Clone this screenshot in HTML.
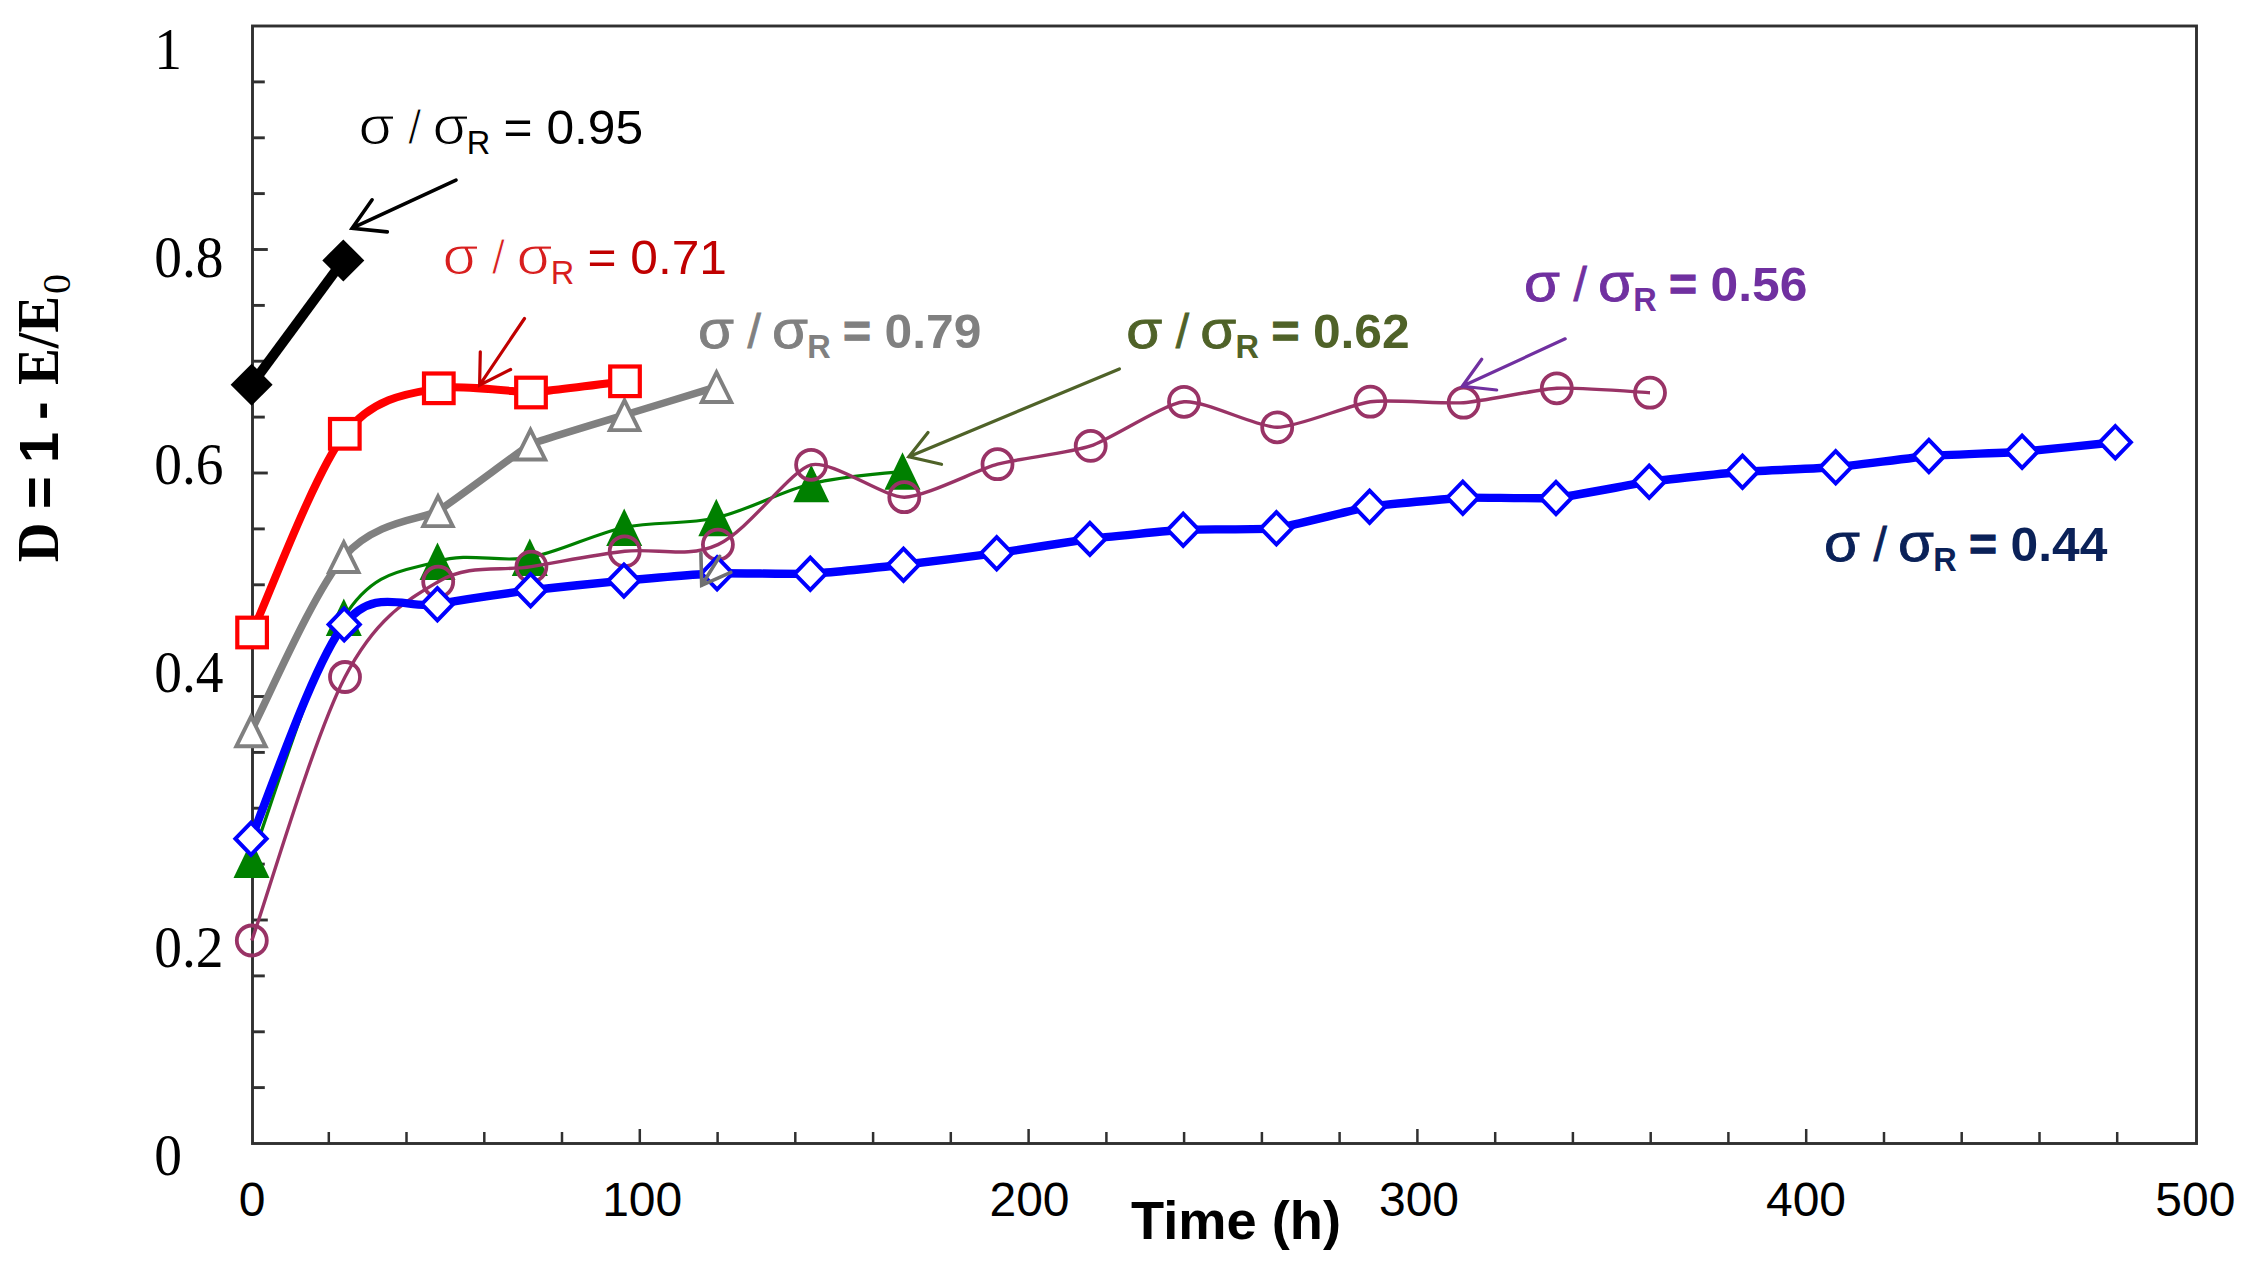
<!DOCTYPE html>
<html lang="en"><head><meta charset="utf-8"><title>D = 1 - E/E0 versus Time (h)</title>
<style>html,body{margin:0;padding:0;background:#fff;}svg{display:block;}.sans{font-family:"Liberation Sans",Arial,sans-serif;}.serif{font-family:"Liberation Serif","Times New Roman",serif;}</style></head><body>
<svg width="2244" height="1266" viewBox="0 0 2244 1266">
<rect x="0" y="0" width="2244" height="1266" fill="#ffffff"/>
<g stroke="#303030" stroke-width="2.9" fill="none" stroke-linecap="butt">
<rect x="252.5" y="26.0" width="1944.0" height="1117.5"/>
<line x1="252.5" y1="1087.6" x2="264.8" y2="1087.6"/>
<line x1="252.5" y1="1031.8" x2="264.8" y2="1031.8"/>
<line x1="252.5" y1="975.9" x2="264.8" y2="975.9"/>
<line x1="252.5" y1="920.0" x2="267.8" y2="920.0"/>
<line x1="252.5" y1="864.1" x2="264.8" y2="864.1"/>
<line x1="252.5" y1="808.2" x2="264.8" y2="808.2"/>
<line x1="252.5" y1="752.4" x2="264.8" y2="752.4"/>
<line x1="252.5" y1="696.5" x2="267.8" y2="696.5"/>
<line x1="252.5" y1="640.6" x2="264.8" y2="640.6"/>
<line x1="252.5" y1="584.8" x2="264.8" y2="584.8"/>
<line x1="252.5" y1="528.9" x2="264.8" y2="528.9"/>
<line x1="252.5" y1="473.0" x2="267.8" y2="473.0"/>
<line x1="252.5" y1="417.1" x2="264.8" y2="417.1"/>
<line x1="252.5" y1="361.2" x2="264.8" y2="361.2"/>
<line x1="252.5" y1="305.4" x2="264.8" y2="305.4"/>
<line x1="252.5" y1="249.5" x2="267.8" y2="249.5"/>
<line x1="252.5" y1="193.6" x2="264.8" y2="193.6"/>
<line x1="252.5" y1="137.8" x2="264.8" y2="137.8"/>
<line x1="252.5" y1="81.9" x2="264.8" y2="81.9"/>
<line x1="328.8" y1="1143.5" x2="328.8" y2="1132.0" stroke-width="2.5"/>
<line x1="406.5" y1="1143.5" x2="406.5" y2="1132.0" stroke-width="2.5"/>
<line x1="484.3" y1="1143.5" x2="484.3" y2="1132.0" stroke-width="2.5"/>
<line x1="562.0" y1="1143.5" x2="562.0" y2="1132.0" stroke-width="2.5"/>
<line x1="639.8" y1="1143.5" x2="639.8" y2="1129.0" stroke-width="2.5"/>
<line x1="717.6" y1="1143.5" x2="717.6" y2="1132.0" stroke-width="2.5"/>
<line x1="795.3" y1="1143.5" x2="795.3" y2="1132.0" stroke-width="2.5"/>
<line x1="873.1" y1="1143.5" x2="873.1" y2="1132.0" stroke-width="2.5"/>
<line x1="950.8" y1="1143.5" x2="950.8" y2="1132.0" stroke-width="2.5"/>
<line x1="1028.6" y1="1143.5" x2="1028.6" y2="1129.0" stroke-width="2.5"/>
<line x1="1106.4" y1="1143.5" x2="1106.4" y2="1132.0" stroke-width="2.5"/>
<line x1="1184.1" y1="1143.5" x2="1184.1" y2="1132.0" stroke-width="2.5"/>
<line x1="1261.9" y1="1143.5" x2="1261.9" y2="1132.0" stroke-width="2.5"/>
<line x1="1339.6" y1="1143.5" x2="1339.6" y2="1132.0" stroke-width="2.5"/>
<line x1="1417.4" y1="1143.5" x2="1417.4" y2="1129.0" stroke-width="2.5"/>
<line x1="1495.2" y1="1143.5" x2="1495.2" y2="1132.0" stroke-width="2.5"/>
<line x1="1572.9" y1="1143.5" x2="1572.9" y2="1132.0" stroke-width="2.5"/>
<line x1="1650.7" y1="1143.5" x2="1650.7" y2="1132.0" stroke-width="2.5"/>
<line x1="1728.4" y1="1143.5" x2="1728.4" y2="1132.0" stroke-width="2.5"/>
<line x1="1806.2" y1="1143.5" x2="1806.2" y2="1129.0" stroke-width="2.5"/>
<line x1="1884.0" y1="1143.5" x2="1884.0" y2="1132.0" stroke-width="2.5"/>
<line x1="1961.7" y1="1143.5" x2="1961.7" y2="1132.0" stroke-width="2.5"/>
<line x1="2039.5" y1="1143.5" x2="2039.5" y2="1132.0" stroke-width="2.5"/>
<line x1="2117.2" y1="1143.5" x2="2117.2" y2="1132.0" stroke-width="2.5"/>
</g>
<g class="serif" font-size="59" fill="#000">
<text transform="translate(154.2,69.4) scale(0.94,1)" x="0" y="0">1</text>
<text transform="translate(154.2,277.0) scale(0.94,1)" x="0" y="0">0.8</text>
<text transform="translate(154.2,483.6) scale(0.94,1)" x="0" y="0">0.6</text>
<text transform="translate(154.2,691.5) scale(0.94,1)" x="0" y="0">0.4</text>
<text transform="translate(154.2,966.5) scale(0.94,1)" x="0" y="0">0.2</text>
<text transform="translate(154.2,1175.0) scale(0.94,1)" x="0" y="0">0</text>
</g>
<g class="sans" font-size="48" fill="#000" text-anchor="middle">
<text x="252.2" y="1216">0</text>
<text x="642.2" y="1216">100</text>
<text x="1029.5" y="1216">200</text>
<text x="1419.0" y="1216">300</text>
<text x="1806.0" y="1216">400</text>
<text x="2195.3" y="1216">500</text>
</g>
<text class="sans" font-size="54.5" font-weight="bold" fill="#000" x="1131" y="1239.3" textLength="210" lengthAdjust="spacingAndGlyphs">Time (h)</text>
<g transform="translate(58,563) rotate(-90)" fill="#000" font-weight="bold">
<text class="serif" font-size="60" x="0.7" y="0" textLength="39.7" lengthAdjust="spacingAndGlyphs">D</text>
<text class="sans" font-size="56" x="54" y="0">=</text>
<text class="sans" font-size="56" x="100" y="0">1</text>
<text class="sans" font-size="56" x="143" y="0">-</text>
<text class="serif" font-size="60" x="178" y="0" textLength="89" lengthAdjust="spacingAndGlyphs">E/E</text>
<text class="serif" font-size="40" font-weight="normal" x="269" y="12">0</text>
</g>
<path d="M251.5 859.5 C266.9 819.2 312.8 667.2 343.8 617.5 C374.8 567.8 406.5 571.5 437.5 561.5 C468.5 551.5 498.7 563.2 529.8 557.5 C560.9 551.8 593.1 534.1 624.2 527.5 C655.3 520.9 685.1 525.1 716.3 517.8 C747.5 510.5 780.3 491.6 811.3 483.8 C842.3 476.1 887.3 473.4 902.5 471.3" fill="none" stroke="#008000" stroke-width="3.2" stroke-linejoin="round"/>
<polygon points="251.5,840.5 269.5,878.0 233.5,878.0" fill="#008000"/>
<polygon points="343.8,598.5 361.8,636.0 325.8,636.0" fill="#008000"/>
<polygon points="437.5,542.5 455.5,580.0 419.5,580.0" fill="#008000"/>
<polygon points="529.8,538.5 547.8,576.0 511.8,576.0" fill="#008000"/>
<polygon points="624.2,508.5 642.2,546.0 606.2,546.0" fill="#008000"/>
<polygon points="716.3,498.8 734.3,536.3 698.3,536.3" fill="#008000"/>
<polygon points="811.3,464.8 829.3,502.3 793.3,502.3" fill="#008000"/>
<polygon points="902.5,452.3 920.5,489.8 884.5,489.8" fill="#008000"/>
<path d="M251.6 384.7 L343.3 260.4" fill="none" stroke="#000" stroke-width="10"/>
<polygon points="251.6,363.7 272.6,384.7 251.6,405.7 230.6,384.7" fill="#000"/>
<polygon points="343.3,239.4 364.3,260.4 343.3,281.4 322.3,260.4" fill="#000"/>
<path d="M251.0 731.2 C266.5 702.2 312.6 593.6 343.8 556.9 C375.0 520.2 424.9 518.9 438.0 511.0 C451.1 503.1 524.9 447.3 530.5 444.4 C536.1 441.5 618.9 416.7 624.5 415.0 C630.1 413.3 713.7 387.7 716.5 386.9" fill="none" stroke="#808080" stroke-width="7.5" stroke-linejoin="round"/>
<polygon points="251.0,716.6 265.7,746.3 236.3,746.3" fill="#fff" stroke="#808080" stroke-width="3.9" stroke-linejoin="miter"/>
<polygon points="343.8,542.3 358.5,572.0 329.1,572.0" fill="#fff" stroke="#808080" stroke-width="3.9" stroke-linejoin="miter"/>
<polygon points="438.0,496.4 452.7,526.1 423.3,526.1" fill="#fff" stroke="#808080" stroke-width="3.9" stroke-linejoin="miter"/>
<polygon points="530.5,429.8 545.2,459.5 515.8,459.5" fill="#fff" stroke="#808080" stroke-width="3.9" stroke-linejoin="miter"/>
<polygon points="624.5,400.4 639.2,430.1 609.8,430.1" fill="#fff" stroke="#808080" stroke-width="3.9" stroke-linejoin="miter"/>
<polygon points="716.5,372.3 731.2,402.0 701.8,402.0" fill="#fff" stroke="#808080" stroke-width="3.9" stroke-linejoin="miter"/>
<path d="M252.1 632.5 C267.6 599.4 313.7 474.5 344.8 433.8 C375.9 393.1 420.2 392.4 438.8 388.3 C457.4 384.2 523.6 392.8 531.0 392.5 C538.4 392.2 621.2 381.7 625.0 381.3" fill="none" stroke="#ff0000" stroke-width="8" stroke-linejoin="round"/>
<rect x="237.3" y="617.7" width="29.6" height="29.6" fill="#fff" stroke="#ff0000" stroke-width="4.2"/>
<rect x="330.0" y="419.0" width="29.6" height="29.6" fill="#fff" stroke="#ff0000" stroke-width="4.2"/>
<rect x="424.0" y="373.5" width="29.6" height="29.6" fill="#fff" stroke="#ff0000" stroke-width="4.2"/>
<rect x="516.2" y="377.7" width="29.6" height="29.6" fill="#fff" stroke="#ff0000" stroke-width="4.2"/>
<rect x="610.2" y="366.5" width="29.6" height="29.6" fill="#fff" stroke="#ff0000" stroke-width="4.2"/>
<path d="M251.8 940.5 C267.3 896.6 313.9 736.8 345.0 677.0 C376.1 617.2 407.2 600.1 438.2 581.7 C469.3 563.3 500.4 571.7 531.4 566.6 C562.5 561.5 593.6 555.0 624.7 551.3 C655.7 547.6 686.8 559.0 717.9 544.6 C749.0 530.2 790.6 470.0 811.1 464.8 C831.6 459.6 883.8 497.3 904.3 497.2 C924.8 497.1 977.0 469.8 997.5 464.2 C1018.0 458.6 1070.2 452.8 1090.7 445.9 C1111.3 439.0 1163.5 403.8 1184.0 401.8 C1204.5 399.8 1256.7 427.3 1277.2 427.3 C1297.7 427.3 1349.9 404.4 1370.4 401.7 C1390.9 399.0 1443.1 404.2 1463.6 402.7 C1484.1 401.2 1536.3 389.4 1556.8 388.3 C1577.3 387.2 1639.8 392.2 1650.0 392.7" fill="none" stroke="#993366" stroke-width="3.4" stroke-linejoin="round"/>
<circle cx="251.8" cy="940.5" r="15.0" fill="none" stroke="#993366" stroke-width="3.8"/>
<circle cx="345.0" cy="677.0" r="15.0" fill="none" stroke="#993366" stroke-width="3.8"/>
<circle cx="438.2" cy="581.7" r="15.0" fill="none" stroke="#993366" stroke-width="3.8"/>
<circle cx="531.4" cy="566.6" r="15.0" fill="none" stroke="#993366" stroke-width="3.8"/>
<circle cx="624.7" cy="551.3" r="15.0" fill="none" stroke="#993366" stroke-width="3.8"/>
<circle cx="717.9" cy="544.6" r="15.0" fill="none" stroke="#993366" stroke-width="3.8"/>
<circle cx="811.1" cy="464.8" r="15.0" fill="none" stroke="#993366" stroke-width="3.8"/>
<circle cx="904.3" cy="497.2" r="15.0" fill="none" stroke="#993366" stroke-width="3.8"/>
<circle cx="997.5" cy="464.2" r="15.0" fill="none" stroke="#993366" stroke-width="3.8"/>
<circle cx="1090.7" cy="445.9" r="15.0" fill="none" stroke="#993366" stroke-width="3.8"/>
<circle cx="1184.0" cy="401.8" r="15.0" fill="none" stroke="#993366" stroke-width="3.8"/>
<circle cx="1277.2" cy="427.3" r="15.0" fill="none" stroke="#993366" stroke-width="3.8"/>
<circle cx="1370.4" cy="401.7" r="15.0" fill="none" stroke="#993366" stroke-width="3.8"/>
<circle cx="1463.6" cy="402.7" r="15.0" fill="none" stroke="#993366" stroke-width="3.8"/>
<circle cx="1556.8" cy="388.3" r="15.0" fill="none" stroke="#993366" stroke-width="3.8"/>
<circle cx="1650.0" cy="392.7" r="15.0" fill="none" stroke="#993366" stroke-width="3.8"/>
<path d="M251.0 838.7 C266.5 803.0 313.1 663.5 344.2 624.4 C375.3 585.3 406.4 609.9 437.4 604.2 C468.5 598.5 521.3 591.4 530.6 590.2 C540.0 589.0 614.5 581.4 623.9 580.6 C633.2 579.8 707.8 573.6 717.1 573.3 C726.4 573.0 801.0 574.2 810.3 573.8 C819.6 573.4 894.2 565.8 903.5 564.8 C912.8 563.8 987.4 554.5 996.7 553.2 C1006.0 551.9 1080.6 540.1 1089.9 538.9 C1099.3 537.7 1173.8 530.3 1183.2 529.8 C1192.5 529.3 1267.1 529.5 1276.4 528.3 C1285.7 527.1 1360.3 508.2 1369.6 506.7 C1378.9 505.2 1453.5 498.1 1462.8 497.7 C1472.1 497.3 1546.7 498.8 1556.0 498.0 C1565.3 497.2 1639.9 483.0 1649.2 481.7 C1658.6 480.4 1733.1 472.4 1742.5 471.7 C1751.8 471.0 1826.4 468.1 1835.7 467.3 C1845.0 466.5 1919.6 456.8 1928.9 456.0 C1938.2 455.2 2012.8 452.4 2022.1 451.7 C2031.4 451.0 2110.7 442.8 2115.3 442.3" fill="none" stroke="#0000ff" stroke-width="8.4" stroke-linejoin="round"/>
<polygon points="251.0,822.6 266.6,838.7 251.0,854.8 235.4,838.7" fill="#fff" stroke="#0000ff" stroke-width="4"/>
<polygon points="344.2,608.3 359.8,624.4 344.2,640.5 328.6,624.4" fill="#fff" stroke="#0000ff" stroke-width="4"/>
<polygon points="437.4,588.1 453.0,604.2 437.4,620.3 421.8,604.2" fill="#fff" stroke="#0000ff" stroke-width="4"/>
<polygon points="530.6,574.1 546.2,590.2 530.6,606.3 515.0,590.2" fill="#fff" stroke="#0000ff" stroke-width="4"/>
<polygon points="623.9,564.5 639.5,580.6 623.9,596.7 608.3,580.6" fill="#fff" stroke="#0000ff" stroke-width="4"/>
<polygon points="717.1,557.2 732.7,573.3 717.1,589.4 701.5,573.3" fill="#fff" stroke="#0000ff" stroke-width="4"/>
<polygon points="810.3,557.7 825.9,573.8 810.3,589.9 794.7,573.8" fill="#fff" stroke="#0000ff" stroke-width="4"/>
<polygon points="903.5,548.7 919.1,564.8 903.5,580.9 887.9,564.8" fill="#fff" stroke="#0000ff" stroke-width="4"/>
<polygon points="996.7,537.1 1012.3,553.2 996.7,569.3 981.1,553.2" fill="#fff" stroke="#0000ff" stroke-width="4"/>
<polygon points="1089.9,522.8 1105.5,538.9 1089.9,555.0 1074.3,538.9" fill="#fff" stroke="#0000ff" stroke-width="4"/>
<polygon points="1183.2,513.7 1198.8,529.8 1183.2,545.9 1167.6,529.8" fill="#fff" stroke="#0000ff" stroke-width="4"/>
<polygon points="1276.4,512.2 1292.0,528.3 1276.4,544.4 1260.8,528.3" fill="#fff" stroke="#0000ff" stroke-width="4"/>
<polygon points="1369.6,490.6 1385.2,506.7 1369.6,522.8 1354.0,506.7" fill="#fff" stroke="#0000ff" stroke-width="4"/>
<polygon points="1462.8,481.6 1478.4,497.7 1462.8,513.8 1447.2,497.7" fill="#fff" stroke="#0000ff" stroke-width="4"/>
<polygon points="1556.0,481.9 1571.6,498.0 1556.0,514.1 1540.4,498.0" fill="#fff" stroke="#0000ff" stroke-width="4"/>
<polygon points="1649.2,465.6 1664.8,481.7 1649.2,497.8 1633.6,481.7" fill="#fff" stroke="#0000ff" stroke-width="4"/>
<polygon points="1742.5,455.6 1758.1,471.7 1742.5,487.8 1726.9,471.7" fill="#fff" stroke="#0000ff" stroke-width="4"/>
<polygon points="1835.7,451.2 1851.3,467.3 1835.7,483.4 1820.1,467.3" fill="#fff" stroke="#0000ff" stroke-width="4"/>
<polygon points="1928.9,439.9 1944.5,456.0 1928.9,472.1 1913.3,456.0" fill="#fff" stroke="#0000ff" stroke-width="4"/>
<polygon points="2022.1,435.6 2037.7,451.7 2022.1,467.8 2006.5,451.7" fill="#fff" stroke="#0000ff" stroke-width="4"/>
<polygon points="2115.3,426.2 2130.9,442.3 2115.3,458.4 2099.7,442.3" fill="#fff" stroke="#0000ff" stroke-width="4"/>
<path d="M456.0 180.1 L352.1 228.2 M372.1 199.8 L352.1 228.2 L387.3 231.9" fill="none" stroke="#000" stroke-width="3.6" stroke-linecap="round" stroke-linejoin="miter"/>
<path d="M524.5 318.5 L479.6 385.1 M480.3 351.8 L479.6 385.1 L510.6 369.5" fill="none" stroke="#c00000" stroke-width="3.2" stroke-linecap="round" stroke-linejoin="miter"/>
<path d="M1119.4 368.9 L908.8 456.8 M928.0 432.4 L908.8 456.8 L941.5 464.3" fill="none" stroke="#4f6228" stroke-width="3.2" stroke-linecap="round" stroke-linejoin="miter"/>
<path d="M1565.2 338.8 L1462.3 386.3 M1481.7 359.3 L1462.3 386.3 L1496.7 390.0" fill="none" stroke="#7030a0" stroke-width="3.2" stroke-linecap="round" stroke-linejoin="miter"/>
<path d="M719.7 556.4 L701.7 585.3 M700.9 553.0 L701.7 585.3 L730.8 572.4" fill="none" stroke="#707070" stroke-width="3.6" stroke-linecap="round" stroke-linejoin="miter"/>
<g class="sans">
<text x="358.5" y="144.4" font-size="51" fill="#000" stroke="#ffffff" stroke-width="1.1" textLength="36.0" lengthAdjust="spacingAndGlyphs">σ</text>
<text x="407.9" y="144.4" font-size="48" fill="#000" stroke="#ffffff" stroke-width="1.1">/</text>
<text x="432.5" y="144.4" font-size="51" fill="#000" stroke="#ffffff" stroke-width="1.1" textLength="36.0" lengthAdjust="spacingAndGlyphs">σ</text>
<text x="466.8" y="154.4" font-size="32.5" fill="#000">R</text>
<text x="503.6" y="144.4" font-size="48" fill="#000" textLength="139.5" lengthAdjust="spacingAndGlyphs">= 0.95</text>
</g>
<g class="sans">
<text x="442.4" y="273.8" font-size="51" fill="#d81e1e" stroke="#ffffff" stroke-width="1.1" textLength="36.0" lengthAdjust="spacingAndGlyphs">σ</text>
<text x="491.8" y="273.8" font-size="48" fill="#d81e1e" stroke="#ffffff" stroke-width="1.1">/</text>
<text x="516.4" y="273.8" font-size="51" fill="#d81e1e" stroke="#ffffff" stroke-width="1.1" textLength="36.0" lengthAdjust="spacingAndGlyphs">σ</text>
<text x="550.7" y="283.8" font-size="32.5" fill="#d81e1e">R</text>
<text x="587.5" y="273.8" font-size="48" fill="#c00000" textLength="139.5" lengthAdjust="spacingAndGlyphs">= 0.71</text>
</g>
<g class="sans">
<text x="698.0" y="347.5" font-size="51" fill="#808080" stroke="#808080" stroke-width="0.8" textLength="36.0" lengthAdjust="spacingAndGlyphs">σ</text>
<text x="747.4" y="347.5" font-size="48" fill="#808080" stroke="#808080" stroke-width="0.8">/</text>
<text x="772.0" y="347.5" font-size="51" fill="#808080" stroke="#808080" stroke-width="0.8" textLength="36.0" lengthAdjust="spacingAndGlyphs">σ</text>
<text x="807.3" y="357.5" font-size="32.5" fill="#808080" font-weight="bold">R</text>
<text x="843.1" y="347.5" font-size="48" fill="#808080" font-weight="bold" stroke="#808080" stroke-width="1.0">=</text>
<text x="884.6" y="347.5" font-size="48" fill="#808080" font-weight="bold" textLength="96.8" lengthAdjust="spacingAndGlyphs">0.79</text>
</g>
<g class="sans">
<text x="1126.3" y="347.5" font-size="51" fill="#4f6228" stroke="#4f6228" stroke-width="0.8" textLength="36.0" lengthAdjust="spacingAndGlyphs">σ</text>
<text x="1175.7" y="347.5" font-size="48" fill="#4f6228" stroke="#4f6228" stroke-width="0.8">/</text>
<text x="1200.3" y="347.5" font-size="51" fill="#4f6228" stroke="#4f6228" stroke-width="0.8" textLength="36.0" lengthAdjust="spacingAndGlyphs">σ</text>
<text x="1235.6" y="357.5" font-size="32.5" fill="#4f6228" font-weight="bold">R</text>
<text x="1271.4" y="347.5" font-size="48" fill="#4f6228" font-weight="bold" stroke="#4f6228" stroke-width="1.0">=</text>
<text x="1312.9" y="347.5" font-size="48" fill="#4f6228" font-weight="bold" textLength="96.8" lengthAdjust="spacingAndGlyphs">0.62</text>
</g>
<g class="sans">
<text x="1524.0" y="300.5" font-size="51" fill="#7030a0" stroke="#7030a0" stroke-width="0.8" textLength="36.0" lengthAdjust="spacingAndGlyphs">σ</text>
<text x="1573.4" y="300.5" font-size="48" fill="#7030a0" stroke="#7030a0" stroke-width="0.8">/</text>
<text x="1598.0" y="300.5" font-size="51" fill="#7030a0" stroke="#7030a0" stroke-width="0.8" textLength="36.0" lengthAdjust="spacingAndGlyphs">σ</text>
<text x="1633.3" y="310.5" font-size="32.5" fill="#7030a0" font-weight="bold">R</text>
<text x="1669.1" y="300.5" font-size="48" fill="#7030a0" font-weight="bold" stroke="#7030a0" stroke-width="1.0">=</text>
<text x="1710.6" y="300.5" font-size="48" fill="#7030a0" font-weight="bold" textLength="96.8" lengthAdjust="spacingAndGlyphs">0.56</text>
</g>
<g class="sans">
<text x="1824.0" y="560.9" font-size="51" fill="#0a2158" stroke="#0a2158" stroke-width="0.8" textLength="36.0" lengthAdjust="spacingAndGlyphs">σ</text>
<text x="1873.4" y="560.9" font-size="48" fill="#0a2158" stroke="#0a2158" stroke-width="0.8">/</text>
<text x="1898.0" y="560.9" font-size="51" fill="#0a2158" stroke="#0a2158" stroke-width="0.8" textLength="36.0" lengthAdjust="spacingAndGlyphs">σ</text>
<text x="1933.3" y="570.9" font-size="32.5" fill="#0a2158" font-weight="bold">R</text>
<text x="1969.1" y="560.9" font-size="48" fill="#0a2158" font-weight="bold" stroke="#0a2158" stroke-width="1.0">=</text>
<text x="2010.6" y="560.9" font-size="48" fill="#0a2158" font-weight="bold" textLength="96.8" lengthAdjust="spacingAndGlyphs">0.44</text>
</g>
</svg></body></html>
